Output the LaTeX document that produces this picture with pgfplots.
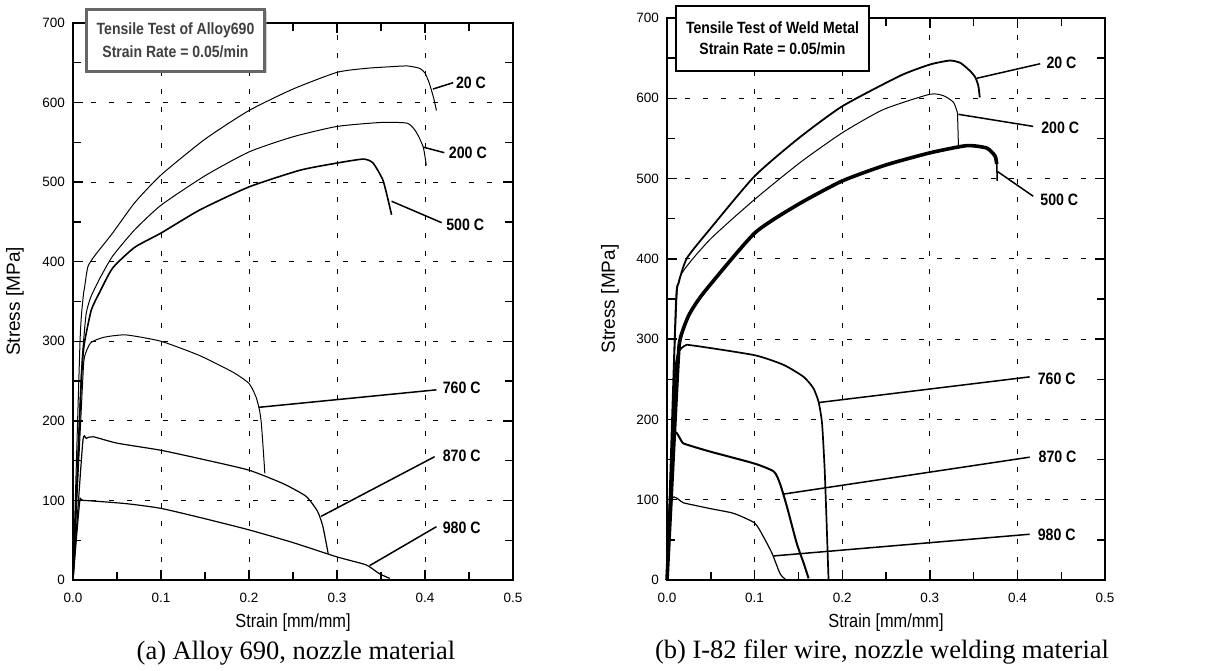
\documentclass[border=0pt]{standalone}
\usepackage{fontspec}
\setmainfont{Liberation Serif}
\newfontfamily\arial{Liberation Sans}
\newfontfamily\narrow{Liberation Sans}[FakeStretch=0.86]
\usepackage{pgfplots}
\pgfplotsset{compat=1.18}
\usetikzlibrary{shadows}
\tikzset{lbl/.style={font=\narrow\bfseries\fontsize{16.5}{18}\selectfont, inner sep=0pt, anchor=west}}
\pgfplotsset{
  myaxis/.style={
    scale only axis,
    anchor=south west,
    xmin=0, xmax=0.5, ymin=0, ymax=700,
    xtick={0,0.1,0.2,0.3,0.4,0.5},
    ytick={0,100,200,300,400,500,600,700},
    minor x tick num=1, minor y tick num=1,
    tick align=inside,
    major tick length=10pt, minor tick length=8pt,
    tick style={black, line width=1.4pt},
    axis line style={line width=2pt},
    grid=major,
    major grid style={black, line width=0.8pt, dash pattern=on 5pt off 13pt},
    /pgf/number format/assume math mode=true,
    tick label style={font=\arial\fontsize{13.5}{15}\selectfont},
    xticklabel style={/pgf/number format/.cd, fixed, fixed zerofill, precision=1, /tikz/.cd, inner sep=0pt, anchor=north, yshift=-13pt},
    yticklabel style={inner sep=0pt, anchor=east, xshift=-8pt},
    xlabel={Strain [mm/mm]},
    xlabel style={font=\narrow\fontsize{19}{21}\selectfont, at={(axis description cs:0.5,0)}, anchor=base, yshift=-48pt},
    ylabel={Stress [MPa]},
    ylabel style={font=\arial\fontsize{19}{21}\selectfont, at={(axis description cs:-0.132,0.5)}, anchor=center},
    clip=false,
    every axis plot/.append style={no marks, black},
    crv/.style={smooth, tension=0.35},
  },
}
\begin{document}
\begin{tikzpicture}[x=1pt,y=1pt]
\path[use as bounding box] (0,0) rectangle (1215,671);
% ---------------- left axis ----------------
\begin{axis}[myaxis, at={(73pt,91pt)}, width=440pt, height=557pt]
% 20 C
\addplot[crv, line width=1pt] coordinates {(0,0) (0.008,300) (0.0115,355) (0.0133,369) (0.017,394) (0.025,408) (0.045,436) (0.07,474) (0.1,509) (0.15,554) (0.2,590) (0.25,617) (0.3,638) (0.333,643) (0.36,645) (0.38,646) (0.394,643) (0.4,637) (0.405,624) (0.41,605) (0.413,590)};
% 200 C
\addplot[crv, line width=1pt] coordinates {(0,0) (0.009,250) (0.012,300) (0.015,335) (0.02,355) (0.03,378) (0.045,407) (0.07,440) (0.1,471) (0.15,508) (0.2,538) (0.25,557) (0.3,570) (0.35,575) (0.38,574) (0.39,563) (0.398,544) (0.4015,521)};
% 500 C
\addplot[crv, line width=1.6pt] coordinates {(0,0) (0.009,240) (0.012,290) (0.015,310) (0.021,340) (0.03,361) (0.045,392) (0.07,418) (0.1,436) (0.144,465) (0.2,494) (0.258,515) (0.3,524) (0.33,529) (0.341,524) (0.352,503) (0.358,478) (0.362,459)};
% 760 C
\addplot[crv, line width=1pt] coordinates {(0,0) (0.011,250) (0.013,280) (0.02,298) (0.035,305) (0.06,308) (0.1,300) (0.144,282) (0.182,261) (0.2,247) (0.208,230) (0.212,213) (0.214,197) (0.216,167) (0.218,134)};
% 870 C
\addplot[crv, line width=1.2pt] coordinates {(0,0) (0.011,172) (0.015,178) (0.023,180) (0.05,172) (0.1,163) (0.15,151) (0.2,138) (0.239,121) (0.265,105) (0.278,86) (0.284,67) (0.29,33)};
% 980 C
\addplot[crv, line width=1.2pt] coordinates {(0,0) (0.0076,98) (0.012,100) (0.06,96) (0.1,90) (0.15,77) (0.2,63) (0.25,47) (0.3,29) (0.333,19) (0.348,8) (0.36,2)};
% leaders
\addplot[line width=1.5pt] coordinates {(0.409,617) (0.432,625)};
\addplot[line width=1.5pt] coordinates {(0.398,544) (0.422,537)};
\addplot[line width=1.5pt] coordinates {(0.362,476) (0.419,449)};
\addplot[line width=1.5pt] coordinates {(0.211,217) (0.413,239)};
\addplot[line width=1.5pt] coordinates {(0.282,80) (0.411,155)};
\addplot[line width=1.5pt] coordinates {(0.337,18) (0.413,67)};
\node[lbl] at (axis cs:0.435,625) {20 C};
\node[lbl] at (axis cs:0.427,537) {200 C};
\node[lbl] at (axis cs:0.424,446) {500 C};
\node[lbl] at (axis cs:0.420,242) {760 C};
\node[lbl] at (axis cs:0.420,156) {870 C};
\node[lbl] at (axis cs:0.420,65) {980 C};
\end{axis}
% ---------------- right axis ----------------
\begin{axis}[myaxis, at={(667pt,91pt)}, width=438pt, height=562pt, ylabel style={at={(axis description cs:-0.130,0.5)}}]
% 20 C
\addplot[crv, line width=1.8pt] coordinates {(0,0) (0.01,340) (0.0133,370) (0.0228,401) (0.049,437) (0.1,503) (0.15,550) (0.2,590) (0.266,628) (0.3,642) (0.323,647) (0.335,644) (0.346,634) (0.352,626) (0.3555,615) (0.357,601)};
% 200 C
\addplot[crv, line width=1pt] coordinates {(0,0) (0.01,320) (0.015,378) (0.049,424) (0.1,474) (0.152,520) (0.2,557) (0.247,586) (0.3,605) (0.316,603) (0.327,595) (0.3316,582)};
\addplot[line width=1pt] coordinates {(0.3316,582) (0.3327,541)};
% 500 C
\addplot[crv, line width=3.6pt] coordinates {(0,0) (0.012,260) (0.015,300) (0.025,330) (0.042,358) (0.1,432) (0.15,468) (0.2,497) (0.25,517) (0.3,532) (0.342,541) (0.365,538) (0.3745,528) (0.3764,518)};
\addplot[line width=1.5pt] coordinates {(0.3764,518) (0.377,497)};
% 760 C
\addplot[crv, line width=1.7pt] coordinates {(0,0) (0.0095,262) (0.019,291) (0.03,292) (0.1,280) (0.133,268) (0.156,253) (0.167,239) (0.173,222) (0.177,195) (0.18,137) (0.1825,62) (0.1844,0)};
% 870 C
\addplot[crv, line width=2pt] coordinates {(0,0) (0.0076,178) (0.019,170) (0.049,160) (0.1,145) (0.122,135) (0.129,120) (0.137,91) (0.148,46) (0.156,21) (0.1616,2)};
% 980 C
\addplot[crv, line width=1.2pt] coordinates {(0,0) (0.0057,100) (0.019,96) (0.049,89) (0.076,83) (0.1,71) (0.11,54) (0.12,33) (0.129,8) (0.135,1)};
% leaders
\addplot[line width=1.5pt] coordinates {(0.354,625) (0.426,643)};
\addplot[line width=1.5pt] coordinates {(0.3327,580) (0.418,565)};
\addplot[line width=1.5pt] coordinates {(0.377,509) (0.418,478)};
\addplot[line width=1.5pt] coordinates {(0.173,221) (0.414,253)};
\addplot[line width=1.5pt] coordinates {(0.133,107) (0.414,153)};
\addplot[line width=1.5pt] coordinates {(0.122,30) (0.414,57)};
\node[lbl] at (axis cs:0.433,644) {20 C};
\node[lbl] at (axis cs:0.427,563) {200 C};
\node[lbl] at (axis cs:0.426,474) {500 C};
\node[lbl] at (axis cs:0.423,251) {760 C};
\node[lbl] at (axis cs:0.424,154) {870 C};
\node[lbl] at (axis cs:0.423,56) {980 C};
\end{axis}
% ---------------- title boxes ----------------
\node[draw=black!60, line width=2.5pt, fill=white, drop shadow={shadow xshift=2pt, shadow yshift=-2pt, fill=black!35},
      minimum width=178pt, minimum height=62pt, align=center, text=black!75,
      font=\narrow\bfseries\fontsize{16.3}{22.5}\selectfont] at (175.5,630.5)
      {Tensile Test of Alloy690\\Strain Rate = 0.05/min};
\node[draw=black, line width=1.5pt, fill=white,
      minimum width=193pt, minimum height=65pt, align=center,
      font=\narrow\bfseries\fontsize{16.3}{21}\selectfont] at (772.5,632.5)
      {Tensile Test of Weld Metal\\Strain Rate = 0.05/min};
% ---------------- captions ----------------
\node[anchor=base, inner sep=0pt, font=\fontsize{26.5}{30}\selectfont] at (296,11) {(a) Alloy 690, nozzle material};
\node[anchor=base, inner sep=0pt, font=\fontsize{26.5}{30}\selectfont] at (882,12) {(b) I-82 filer wire, nozzle welding material};
\end{tikzpicture}
\end{document}
